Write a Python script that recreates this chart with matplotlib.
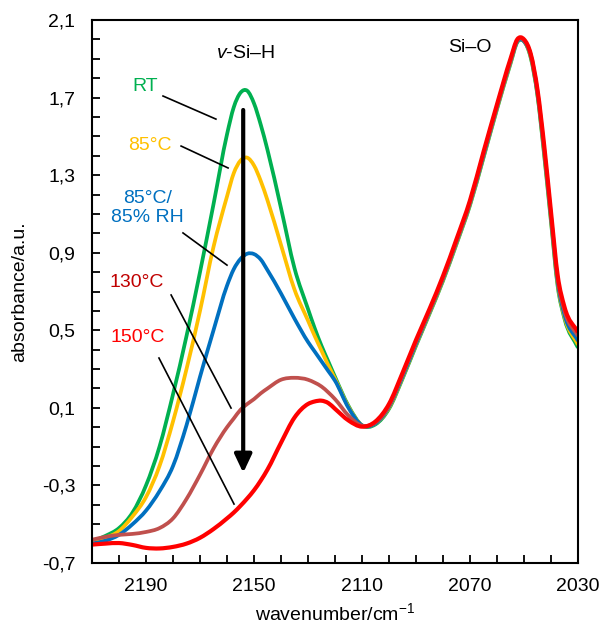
import matplotlib
matplotlib.use("Agg")
import matplotlib.pyplot as plt
from matplotlib.path import Path
from matplotlib.patches import PathPatch
from matplotlib.ticker import FixedLocator, MultipleLocator, FuncFormatter

plt.rcParams['font.family'] = ['Liberation Sans', 'DejaVu Sans']
plt.rcParams['mathtext.fontset'] = 'custom'
plt.rcParams['mathtext.rm'] = 'Liberation Sans'
plt.rcParams['mathtext.it'] = 'Liberation Sans:italic'

# ---- data -------------------------------------------------------------
wavenumber = [2210, 2205, 2200, 2195, 2190, 2185, 2180, 2175, 2170, 2165,
              2160, 2157.5, 2155, 2152.5, 2150, 2147.5, 2145, 2140, 2135, 2130,
              2127.5, 2125, 2122.5, 2120, 2115, 2110, 2105, 2100, 2095, 2090,
              2085, 2080, 2075, 2070, 2065, 2060, 2055, 2052.5, 2050, 2047.5,
              2045, 2042.5, 2040, 2037.5, 2035, 2030]

abs_rt = [-0.59, -0.56, -0.52, -0.44, -0.30, -0.10, 0.17, 0.47, 0.80, 1.15,
          1.51, 1.65, 1.725, 1.735, 1.67, 1.56, 1.43, 1.13, 0.82, 0.61,
          0.51, 0.42, 0.34, 0.26, 0.11, 0.01, 0.015, 0.095, 0.25, 0.42,
          0.585, 0.755, 0.945, 1.145, 1.39, 1.64, 1.875, 1.985, 1.99, 1.905,
          1.71, 1.40, 1.06, 0.725, 0.56, 0.41]

abs_85c = [-0.59, -0.57, -0.535, -0.46, -0.36, -0.20, 0.03, 0.30, 0.60, 0.93,
           1.19, 1.31, 1.375, 1.39, 1.35, 1.27, 1.17, 0.94, 0.71, 0.55,
           0.47, 0.395, 0.32, 0.25, 0.105, 0.01, 0.02, 0.10, 0.255, 0.425,
           0.59, 0.76, 0.95, 1.15, 1.395, 1.645, 1.88, 1.99, 1.99, 1.91,
           1.715, 1.41, 1.07, 0.735, 0.57, 0.425]

abs_85c85rh = [-0.60, -0.585, -0.555, -0.50, -0.43, -0.33, -0.20, 0.01, 0.26, 0.50,
               0.73, 0.815, 0.868, 0.895, 0.893, 0.865, 0.81, 0.69, 0.56, 0.44,
               0.39, 0.34, 0.29, 0.24, 0.10, 0.01, 0.02, 0.105, 0.26, 0.43,
               0.595, 0.765, 0.955, 1.155, 1.40, 1.65, 1.885, 1.99, 1.99, 1.915,
               1.72, 1.42, 1.08, 0.745, 0.58, 0.445]

abs_130c = [-0.58, -0.565, -0.555, -0.55, -0.54, -0.52, -0.47, -0.37, -0.245, -0.11,
            0.00, 0.045, 0.09, 0.12, 0.145, 0.175, 0.20, 0.245, 0.255, 0.245,
            0.23, 0.21, 0.18, 0.145, 0.06, 0.008, 0.025, 0.11, 0.27, 0.44,
            0.60, 0.77, 0.96, 1.16, 1.41, 1.655, 1.89, 1.995, 1.995, 1.92,
            1.73, 1.43, 1.09, 0.76, 0.60, 0.47]

abs_150c = [-0.605, -0.60, -0.597, -0.607, -0.622, -0.625, -0.617, -0.60, -0.57, -0.525,
            -0.47, -0.44, -0.405, -0.367, -0.325, -0.275, -0.218, -0.08, 0.05, 0.12,
            0.133, 0.137, 0.125, 0.095, 0.035, 0.003, 0.03, 0.12, 0.28, 0.45,
            0.61, 0.78, 0.97, 1.17, 1.42, 1.665, 1.90, 2.0, 2.0, 1.925,
            1.74, 1.45, 1.11, 0.78, 0.62, 0.49]

series_labels = ['RT', '85°C', '85°C/\n85% RH', '130°C', '150°C']
series_values = [abs_rt, abs_85c, abs_85c85rh, abs_130c, abs_150c]
line_colors = ['#00B050', '#FFC000', '#0070C0', '#C0504D', '#FF0000']
label_colors = ['#00B050', '#FFC000', '#0070C0', '#C00000', '#FF0000']

x_major = [2190, 2150, 2110, 2070, 2030]
y_major = [-0.7, -0.3, 0.1, 0.5, 0.9, 1.3, 1.7, 2.1]


def smooth_path(xs, ys):
    """Smoothed line through the data points (cubic Bezier, like a
    spreadsheet 'smoothed line'); the path passes through every point."""
    n = len(xs)
    h = [xs[i + 1] - xs[i] for i in range(n - 1)]
    d = [(ys[i + 1] - ys[i]) / h[i] for i in range(n - 1)]
    slopes = [d[0]]
    for i in range(1, n - 1):
        slopes.append((h[i - 1] * d[i] + h[i] * d[i - 1]) / (h[i - 1] + h[i]))
    slopes.append(d[-1])
    verts = [(xs[0], ys[0])]
    codes = [Path.MOVETO]
    for i in range(n - 1):
        verts += [(xs[i] + h[i] / 3, ys[i] + slopes[i] * h[i] / 3),
                  (xs[i + 1] - h[i] / 3, ys[i + 1] - slopes[i + 1] * h[i] / 3),
                  (xs[i + 1], ys[i + 1])]
        codes += [Path.CURVE4] * 3
    return Path(verts, codes)


# ---- figure -----------------------------------------------------------
fig = plt.figure(figsize=(6.03, 6.30), dpi=100)
ax = fig.add_axes([92 / 603, 1 - 563 / 630, 486 / 603, 543 / 630])

for vals, col, lw in zip(series_values, line_colors, [2.7, 2.7, 2.7, 2.7, 3.0]):
    ax.add_patch(PathPatch(smooth_path(wavenumber, vals), fill=False,
                           edgecolor=col, lw=lw, joinstyle='round',
                           capstyle='butt', zorder=2))

ax.set_xlim(2210, 2030)
ax.set_ylim(-0.7, 2.1)

ax.xaxis.set_major_locator(FixedLocator(x_major))
ax.xaxis.set_minor_locator(MultipleLocator(10))
ax.yaxis.set_major_locator(FixedLocator(y_major))
ax.yaxis.set_minor_locator(MultipleLocator(0.1))
ax.yaxis.set_major_formatter(FuncFormatter(lambda v, p: f"{v:.1f}".replace('.', ',')))
ax.xaxis.set_major_formatter(FuncFormatter(lambda v, p: f"{v:.0f}"))

ax.tick_params(which='both', direction='in', length=6, width=1.3, color='black',
               top=False, right=False)
ax.tick_params(axis='x', which='major', pad=11, labelsize=14)
ax.tick_params(axis='y', which='major', pad=12, labelsize=14)
for s in ax.spines.values():
    s.set_linewidth(1.5)

ax.set_xlabel(r'wavenumber/cm$^{\mathregular{-1}}$', fontsize=14)
ax.set_ylabel('absorbance/a.u.', fontsize=14)
ax.xaxis.set_label_coords(0.5, -0.072)
ax.yaxis.set_label_coords(-0.132, 0.5)

# arrow
ax.annotate('', xy=(2154, -0.235), xytext=(2154, 1.636),
            arrowprops=dict(arrowstyle='-|>,head_length=0.55,head_width=0.26',
                            lw=3, color='black', mutation_scale=20,
                            shrinkA=0, shrinkB=0), zorder=4)

# leader lines
leaders = [((2183.7, 1.708), (2164.1, 1.589)),
           ((2177.0, 1.450), (2159.6, 1.337)),
           ((2176.3, 1.002), (2160.0, 0.836)),
           ((2180.7, 0.682), (2158.5, 0.099)),
           ((2185.2, 0.357), (2157.4, -0.396))]
for (x0, y0), (x1, y1) in leaders:
    ax.plot([x0, x1], [y0, y1], color='black', lw=1.2, zorder=3)

label_pos = [(2190.4, 1.755), (2188.5, 1.455), (2189.6, 1.130),
             (2193.3, 0.744), (2193.0, 0.465)]
for txt, (lx, ly), col in zip(series_labels, label_pos, label_colors):
    ax.text(lx, ly, txt, color=col, fontsize=14, ha='center', va='center',
            linespacing=1.15, zorder=5)

ax.text(2153, 1.925, r'$\mathit{v}$-Si–H', fontsize=14, ha='center', va='center')
ax.text(2070, 1.96, 'Si–O', fontsize=14, ha='center', va='center')

fig.savefig('out.png', dpi=100)
